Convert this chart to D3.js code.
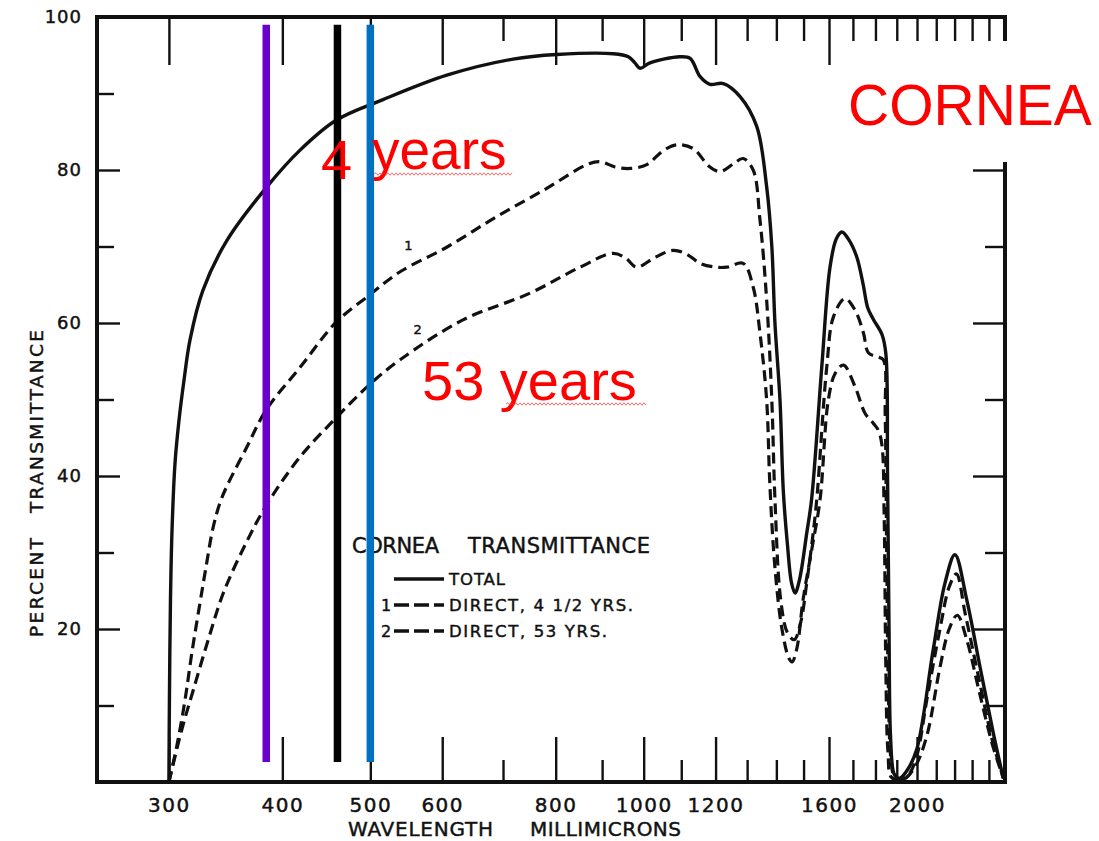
<!DOCTYPE html>
<html>
<head>
<meta charset="utf-8">
<script src="https://cdn.jsdelivr.net/npm/d3@7"></script>
<style>
  html, body { margin: 0; padding: 0; background: #fff; }
  svg { display: block; }
  .scan { font-family: "DejaVu Sans", sans-serif; fill: #111; stroke: #111; stroke-width: 0.45px; }
  .note { font-family: "Liberation Sans", Arial, sans-serif; fill: #ff0000; }
</style>
</head>
<body>
<script>
// Wavelength (millimicrons) and percent transmittance, cornea
const totalCurve = [
  [300,0],[300.4,10.7],[301.2,23.8],[302.4,33],[304.7,41.7],[307.8,47.3],[311.7,52.5],
  [316.5,57.8],[327.1,64.3],[347.6,70.8],[384.6,77.8],[418.4,82.6],[458.4,86.5],[516.3,89.2],
  [607,92.4],[718,94.5],[802,95.1],[926,95.2],[962,94.8],[978,94],[991,93.3],[1016,94.0],
  [1096,94.8],[1125,94.6],[1154,92.2],[1183,91.2],[1224,91.3],[1277,89.6],[1332,85.7],
  [1366,77.8],[1384,70],[1395,60],[1413,49.9],[1425,38],[1440,31],[1455,26],[1468,24.7],
  [1485,26.5],[1512,32.5],[1531,37],[1571,54.3],[1604,67.3],[1630,71],[1653,71.9],[1680,71],
  [1716,68.7],[1745,65],[1765,62],[1790,60.5],[1830,58.5],[1848,56],[1856,40],[1863,20],
  [1870,6],[1885,1.2],[1900,0.6],[1916,0.5],[1950,1.5],[1998,4.2],[2084,17.3],[2147,26],
  [2202,29.7],[2269,23.8],[2346,15.1],[2427,6.4],[2489,0.5]
];
const direct4yrs = [
  [300,0],[306.2,4.8],[312.5,10.7],[318.1,17],[324.6,23.4],[329.5,28],[335.5,33.2],
  [341.5,36.5],[347.6,38.7],[365.6,43.8],[383.7,48.6],[418.4,54.2],[458.4,60.1],[499.5,63.7],
  [539.2,66.7],[606.8,69.9],[688.7,73.9],[782.1,77.6],[865.4,80.7],[895,81.1],[930,80.4],
  [966,80.2],[1008,80.7],[1050,82.5],[1087,83.3],[1134,82.8],[1180,80.5],[1214,79.8],
  [1255,80.8],[1287,81.5],[1320,80],[1343,73.5],[1366,63],[1384,49.9],[1395,37],[1415,24],
  [1440,19.5],[1465,18.6],[1490,21],[1512,26],[1535,32],[1551,36.9],[1591,54.3],[1618,60.8],
  [1666,63.2],[1709,61.7],[1746,58.7],[1768,56.1],[1806,55.6],[1836,55.2],[1845,48],[1852,30],
  [1860,12],[1872,3],[1890,0.6],[1920,0.3],[1960,1],[2000,3.5],[2050,10.7],[2120,20],
  [2170,25.5],[2210,27.2],[2260,22],[2340,13.5],[2420,5.5],[2490,0.5]
];
const direct53yrs = [
  [300,0],[309.9,6.8],[319.1,12],[331.5,18.6],[344.4,24.7],[364.7,31.2],[384.3,36.2],
  [418.4,42.5],[458.4,47.6],[499.5,52],[539.2,55.2],[632.4,60.4],[749.6,63.9],[851,67.3],
  [925.1,69.1],[955,68.5],[982,67.3],[1030,68.6],[1078,69.5],[1115,69],[1154,67.8],[1200,67.3],
  [1235,67.3],[1287,67.8],[1320,64.7],[1343,58.7],[1366,49.9],[1377,39],[1395,28],[1420,20],
  [1445,16.2],[1457,15.7],[1475,17.5],[1498,23.8],[1531,30.3],[1564,36.9],[1597,49.9],
  [1625,53.4],[1660,54.5],[1709,51.7],[1753,48.2],[1790,46.9],[1813,46],[1830,44],[1840,35],
  [1848,15],[1858,4],[1875,0.6],[1930,0.3],[1990,2],[2050,6],[2120,15],[2170,20],[2215,21.8],
  [2270,18.5],[2340,12],[2420,5],[2490,0.5]
];

// Axis ticks
const xLabelTicks = [300, 400, 500, 600, 800, 1000, 1200, 1600, 2000];
const xMinorTicks = [700, 900, 1100, 1300, 1400, 1500, 1700, 1800, 1900, 2100, 2200, 2300, 2400];
const yLabelTicks = [20, 40, 60, 80, 100];
const yMinorTicks = [10, 30, 50, 70, 90];

// Highlighted wavelengths (violet, 460 and 500 millimicrons)
const markerWavelengths = [384, 460, 500];
const markerColors = ["#6a00cc", "#000000", "#0070c0"];

// Legend entries
const legendTitleWords = ["CORNEA", "TRANSMITTANCE"];
const legendLabels = ["TOTAL", "DIRECT, 4 1/2 YRS.", "DIRECT, 53 YRS."];
const legendKeys = ["", "1", "2"];

const W = 1099, H = 841;
const svg = d3.select("body").append("svg").attr("width", W).attr("height", H);

const x = d3.scaleLog().domain([250, 2500]).range([97, 1005]);
const y = d3.scaleLinear().domain([0, 100]).range([782, 17]);

const ink = "#111";

// ---- axes (ticks point inward) ----
function styleAxis(g) {
  g.select(".domain").remove();
  g.selectAll(".tick line").attr("stroke", ink).attr("stroke-width", 2.4);
  g.selectAll(".tick text").attr("class", "scan");
}

svg.append("g").attr("transform", "translate(0,782)")
  .call(d3.axisBottom(x).tickValues(xLabelTicks).tickSize(-45).tickPadding(16)
        .tickFormat(d3.format("d")))
  .call(styleAxis)
  .call(g => g.selectAll(".tick text").attr("font-size", 20).attr("letter-spacing", 1.5)
        .attr("font-family", "DejaVu Sans"));
svg.append("g").attr("transform", "translate(0,782)")
  .call(d3.axisBottom(x).tickValues(xMinorTicks).tickSize(-22).tickFormat(""))
  .call(styleAxis);

svg.append("g").attr("transform", "translate(0,17)")
  .call(d3.axisTop(x).tickValues(xLabelTicks).tickSize(-48).tickFormat(""))
  .call(styleAxis);
svg.append("g").attr("transform", "translate(0,17)")
  .call(d3.axisTop(x).tickValues(xMinorTicks).tickSize(-24).tickFormat(""))
  .call(styleAxis);

svg.append("g").attr("transform", "translate(97,0)")
  .call(d3.axisLeft(y).tickValues(yLabelTicks).tickSize(-23).tickPadding(15))
  .call(styleAxis)
  .call(g => g.selectAll(".tick text").attr("font-size", 18).attr("letter-spacing", 1)
        .attr("font-family", "DejaVu Sans"));
svg.append("g").attr("transform", "translate(97,0)")
  .call(d3.axisLeft(y).tickValues(yMinorTicks).tickSize(-17).tickFormat(""))
  .call(styleAxis);

svg.append("g").attr("transform", "translate(1005,0)")
  .call(d3.axisRight(y).tickValues(yLabelTicks.slice(0, 4)).tickSize(-32).tickFormat(""))
  .call(styleAxis);
svg.append("g").attr("transform", "translate(1005,0)")
  .call(d3.axisRight(y).tickValues(yMinorTicks).tickSize(-20).tickFormat(""))
  .call(styleAxis);

// plot frame
svg.append("rect")
  .attr("x", x(250)).attr("y", y(100))
  .attr("width", x(2500) - x(250)).attr("height", y(0) - y(100))
  .attr("fill", "none").attr("stroke", ink).attr("stroke-width", 4);

// axis titles (each word set separately, wide gap between)
function spacedWord(g, attrs, str, len, size) {
  const t = g.append("text").attr("class", "scan").attr("font-size", size)
    .attr("textLength", len).attr("lengthAdjust", "spacing").text(str);
  Object.entries(attrs).forEach(([k, v]) => t.attr(k, v));
  return t;
}
spacedWord(svg, { x: 348, y: 836 }, "WAVELENGTH", 145, 20);
spacedWord(svg, { x: 530, y: 836 }, "MILLIMICRONS", 151, 20);
spacedWord(svg, { transform: "translate(43,637) rotate(-90)" }, "PERCENT", 99, 18.5);
spacedWord(svg, { transform: "translate(43,513) rotate(-90)" }, "TRANSMITTANCE", 183, 18.5);

// ---- curves ----
svg.append("clipPath").attr("id", "plot-clip")
  .append("rect").attr("x", x(250)).attr("y", y(100))
  .attr("width", x(2500) - x(250)).attr("height", y(0) - y(100));

const line = d3.line()
  .x(d => x(d[0])).y(d => y(d[1]))
  .curve(d3.curveCatmullRom.alpha(0.5));

const curves = svg.append("g").attr("fill", "none").attr("stroke", ink)
  .attr("stroke-linejoin", "round").attr("clip-path", "url(#plot-clip)");
curves.append("path").datum(totalCurve).attr("d", line).attr("stroke-width", 3.4);
curves.append("path").datum(direct4yrs).attr("d", line).attr("stroke-width", 3.2)
  .attr("stroke-dasharray", "11,6");
curves.append("path").datum(direct53yrs).attr("d", line).attr("stroke-width", 3.2)
  .attr("stroke-dasharray", "11,6");

// curve numbers
svg.append("text").attr("class", "scan").attr("font-size", 13)
  .attr("x", x(545)).attr("y", y(69.5)).text("1");
svg.append("text").attr("class", "scan").attr("font-size", 13)
  .attr("x", x(558)).attr("y", y(58.5)).text("2");

// ---- legend ----
const lg = svg.append("g");
spacedWord(lg, { x: 352, y: 553 }, legendTitleWords[0], 87, 21);
spacedWord(lg, { x: 468, y: 553 }, legendTitleWords[1], 182, 21);
const rowY = [579, 605, 631];
const dashes = [null, "15,5", "15,5"];
const textLens = [56, 184, 158];
legendLabels.forEach((label, i) => {
  lg.append("line").attr("x1", 394).attr("x2", 444).attr("y1", rowY[i]).attr("y2", rowY[i])
    .attr("stroke", ink).attr("stroke-width", 3.6)
    .attr("stroke-dasharray", dashes[i]);
  spacedWord(lg, { x: 449, y: rowY[i] + 6 }, label, textLens[i], 16.5);
  if (legendKeys[i]) {
    lg.append("text").attr("class", "scan").attr("x", 381).attr("y", rowY[i] + 6)
      .attr("font-size", 16).text(legendKeys[i]);
  }
});

// ---- highlighted wavelengths ----
svg.append("g").selectAll("line").data(markerWavelengths).join("line")
  .attr("x1", d => x(d)).attr("x2", d => x(d))
  .attr("y1", y(99)).attr("y2", y(2.6))
  .attr("stroke", (d, i) => markerColors[i]).attr("stroke-width", 7.5);

// ---- red annotations ----
svg.append("rect").attr("x", 840).attr("y", 41).attr("width", 259).attr("height", 121)
  .attr("fill", "#fff");
svg.append("text").attr("class", "note").attr("x", 848).attr("y", 125)
  .attr("font-size", 57).text("CORNEA");
svg.append("text").attr("class", "note").attr("x", 321).attr("y", 179)
  .attr("font-size", 56).text("4");
svg.append("text").attr("class", "note").attr("x", 372).attr("y", 169)
  .attr("font-size", 55).text("years");
svg.append("text").attr("class", "note").attr("x", 422).attr("y", 400)
  .attr("font-size", 56).text("53 years");

// wavy proofing underlines under "years"
function squiggle(x0, x1, yy) {
  const p = d3.path();
  p.moveTo(x0, yy);
  let up = true;
  for (let xx = x0 + 2; xx <= x1; xx += 2) { p.lineTo(xx, yy + (up ? -1.2 : 1.2)); up = !up; }
  return p.toString();
}
svg.append("path").attr("d", squiggle(374, 512, 174))
  .attr("fill", "none").attr("stroke", "#ff3030").attr("stroke-width", 0.9).attr("opacity", 0.8);
svg.append("path").attr("d", squiggle(506, 646, 404))
  .attr("fill", "none").attr("stroke", "#ff3030").attr("stroke-width", 0.9).attr("opacity", 0.8);
</script>
</body>
</html>
